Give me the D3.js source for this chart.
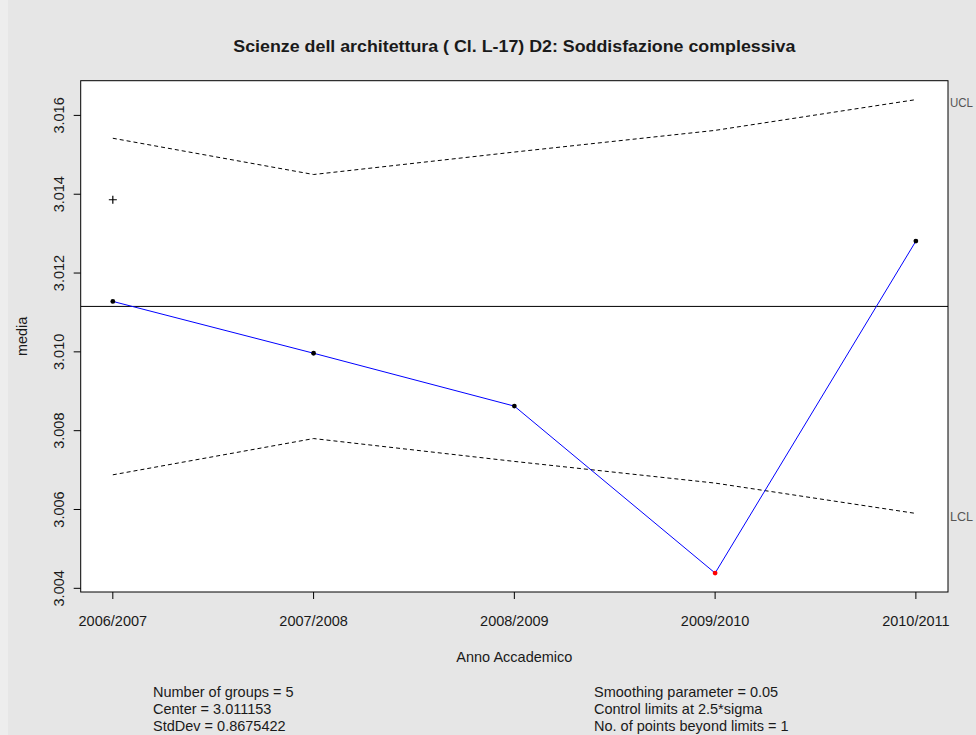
<!DOCTYPE html>
<html>
<head>
<meta charset="utf-8">
<script src="https://cdn.jsdelivr.net/npm/d3@7"></script>
<style>
  html, body { margin: 0; padding: 0; background: #e6e6e6; }
  svg { display: block; }
  text { font-family: "Liberation Sans", Arial, sans-serif; fill: #1a1a1a; }
</style>
</head>
<body>
<script>
// ---- data ----
const groups = ["2006/2007", "2007/2008", "2008/2009", "2009/2010", "2010/2011"];
const ewmaValues = [3.01128, 3.009965, 3.008623, 3.004387, 3.01281];
const groupStats = [3.01386, 2.98496, 2.98312, 2.9239, 3.17284];
const uclValues = [3.01542, 3.01450, 3.01507, 3.01562, 3.01640];
const lclValues = [3.00688, 3.00780, 3.00722, 3.00667, 3.00590];
const centerValue = 3.011153;
const yTicks = [3.004, 3.006, 3.008, 3.010, 3.012, 3.014, 3.016];
const beyond = [false, false, false, true, false];
const titleText = "Scienze dell architettura ( Cl. L-17) D2: Soddisfazione complessiva";
const xTitle = "Anno Accademico";
const yTitle = "media";
const statsLeft = ["Number of groups = 5", "Center = 3.011153", "StdDev = 0.8675422"];
const statsRight = ["Smoothing parameter =  0.05", "Control limits at 2.5*sigma", "No. of points beyond limits = 1"];

// ---- layout ----
const W = 976, H = 735;
const plot = { left: 80.7, right: 948, top: 80.7, bottom: 592 };

const svg = d3.select("body").append("svg").attr("width", W).attr("height", H);
svg.append("rect").attr("width", W).attr("height", H).attr("fill", "#e6e6e6");
svg.append("rect").attr("width", 8).attr("height", H).attr("fill", "#ededed");

// scales (R style 4% extension)
const idx = groups.map((d, i) => i + 1);
const xs = d3.scaleLinear().domain([1 - 0.16, 5 + 0.16]).range([plot.left, plot.right]);
const ymin = d3.min(ewmaValues.concat(lclValues)), ymax = d3.max(ewmaValues.concat(uclValues));
const pad = (ymax - ymin) * 0.04;
const ys = d3.scaleLinear().domain([ymin - pad, ymax + pad]).range([plot.bottom, plot.top]);

svg.append("clipPath").attr("id", "clip").append("rect")
  .attr("x", plot.left).attr("y", plot.top)
  .attr("width", plot.right - plot.left).attr("height", plot.bottom - plot.top);

svg.append("rect").attr("x", plot.left).attr("y", plot.top)
  .attr("width", plot.right - plot.left).attr("height", plot.bottom - plot.top)
  .attr("fill", "#ffffff");

const g = svg.append("g").attr("clip-path", "url(#clip)");

// center line
g.append("line").attr("x1", plot.left).attr("x2", plot.right)
  .attr("y1", ys(centerValue)).attr("y2", ys(centerValue))
  .attr("stroke", "#000").attr("stroke-width", 1);

// limits
const lineGen = d3.line().x((d, i) => xs(i + 1)).y(d => ys(d));
[uclValues, lclValues].forEach(arr => {
  g.append("path").attr("d", lineGen(arr)).attr("fill", "none")
    .attr("stroke", "#000").attr("stroke-width", 1).attr("stroke-dasharray", "4,3");
});

// group statistics (+)
g.selectAll("path.plus").data(groupStats).enter().append("path")
  .attr("class", "plus")
  .attr("d", (d, i) => {
    const x = xs(i + 1), y = ys(d);
    return `M${x - 4},${y}H${x + 4}M${x},${y - 4}V${y + 4}`;
  })
  .attr("stroke", "#000").attr("stroke-width", 1.2).attr("fill", "none");

// ewma line
g.append("path").attr("d", lineGen(ewmaValues)).attr("fill", "none")
  .attr("stroke", "#0000ff").attr("stroke-width", 1);

g.selectAll("circle.pt").data(ewmaValues).enter().append("circle")
  .attr("class", "pt")
  .attr("cx", (d, i) => xs(i + 1)).attr("cy", d => ys(d)).attr("r", 2.4)
  .attr("fill", (d, i) => beyond[i] ? "#ff0000" : "#000");

// border
svg.append("rect").attr("x", plot.left).attr("y", plot.top)
  .attr("width", plot.right - plot.left).attr("height", plot.bottom - plot.top)
  .attr("fill", "none").attr("stroke", "#000").attr("stroke-width", 1);

// y axis
const yAxis = svg.append("g");
yAxis.selectAll("line").data(yTicks).enter().append("line")
  .attr("x1", plot.left - 7).attr("x2", plot.left)
  .attr("y1", d => ys(d)).attr("y2", d => ys(d)).attr("stroke", "#000");
yAxis.selectAll("text").data(yTicks).enter().append("text")
  .attr("transform", d => `translate(63.5,${ys(d)}) rotate(-90)`)
  .attr("text-anchor", "middle").attr("font-size", 14.5)
  .text(d => d3.format(".3f")(d));

// x axis
const xAxis = svg.append("g");
xAxis.selectAll("line").data(idx).enter().append("line")
  .attr("x1", d => xs(d)).attr("x2", d => xs(d))
  .attr("y1", plot.bottom).attr("y2", plot.bottom + 7).attr("stroke", "#000");
xAxis.selectAll("text").data(groups).enter().append("text")
  .attr("x", (d, i) => xs(i + 1)).attr("y", 626)
  .attr("text-anchor", "middle").attr("font-size", 14.5).text(d => d);

// titles
const cx = (plot.left + plot.right) / 2;
svg.append("text").attr("x", cx).attr("y", 52).attr("text-anchor", "middle")
  .attr("font-size", 16).attr("font-weight", "bold")
  .attr("textLength", 562).attr("lengthAdjust", "spacingAndGlyphs").text(titleText);
svg.append("text").attr("x", cx).attr("y", 662).attr("text-anchor", "middle")
  .attr("font-size", 14.5).text(xTitle);
svg.append("text").attr("transform", `translate(27,${(plot.top + plot.bottom) / 2}) rotate(-90)`)
  .attr("text-anchor", "middle").attr("font-size", 14.5).text(yTitle);

// UCL / LCL labels
svg.append("text").attr("x", plot.right + 2).attr("y", ys(uclValues[4]) + 7.5)
  .attr("font-size", 13.5).attr("textLength", 23).attr("lengthAdjust", "spacingAndGlyphs")
  .style("fill", "#555").text("UCL");
svg.append("text").attr("x", plot.right + 2).attr("y", ys(lclValues[4]) + 7.5)
  .attr("font-size", 13.5).attr("textLength", 23).attr("lengthAdjust", "spacingAndGlyphs")
  .style("fill", "#555").text("LCL");

// stats
statsLeft.forEach((t, i) => {
  svg.append("text").attr("x", 153).attr("y", 697 + i * 17).attr("font-size", 14.5).text(t);
});
statsRight.forEach((t, i) => {
  svg.append("text").attr("x", 594).attr("y", 697 + i * 17).attr("font-size", 14.5).text(t);
});
</script>
</body>
</html>
